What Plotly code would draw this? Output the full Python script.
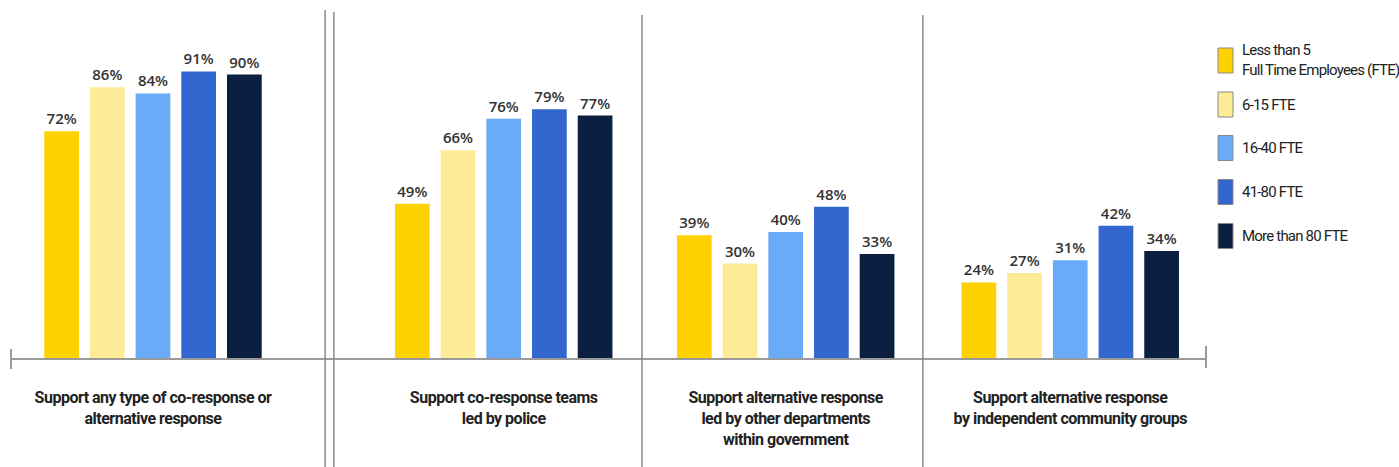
import plotly.graph_objects as go

# ---------------- data ----------------
categories = [
    "Support any type of co-response or<br>alternative response",
    "Support co-response teams<br>led by police",
    "Support alternative response<br>led by other departments<br>within government",
    "Support alternative response<br>by independent community groups",
]
series_names = [
    "Less than 5<br>Full Time Employees (FTE)",
    "6-15 FTE",
    "16-40 FTE",
    "41-80 FTE",
    "More than 80 FTE",
]
values = {
    "Less than 5<br>Full Time Employees (FTE)": [72, 49, 39, 24],
    "6-15 FTE": [86, 66, 30, 27],
    "16-40 FTE": [84, 76, 40, 31],
    "41-80 FTE": [91, 79, 48, 42],
    "More than 80 FTE": [90, 77, 33, 34],
}
colors = ["#FFD100", "#FEEB98", "#6AABF8", "#3267CF", "#0B1F40"]

# ---------------- layout helpers ----------------
W, H = 1399, 467
ML, MT = 11, 10
PW, PH = 1195, 348
MR = W - ML - PW
MB = H - MT - PH
X_RANGE = [0, 4.208]
Y_RANGE = [0, 110.5]
group_pos = [0.5, 1.735, 2.728, 3.73]
divider_pos = [(1.106, 10), (1.137, 12), (2.222, 15), (3.211, 15)]


def xp(x):
    return (x - X_RANGE[0]) / (X_RANGE[1] - X_RANGE[0])


def px_x(p):
    return (p - ML) / PW


def px_y(p):
    return (MT + PH - p) / PH


def tight(s, ls):
    return "<br>".join(f'<span style="letter-spacing:{ls}px">{part}</span>' for part in s.split("<br>"))


cond = "Roboto, Liberation Sans Narrow, Arial Narrow, sans-serif"
legend_font = dict(family=cond, size=15, color="#222222")

fig = go.Figure()
for name, col in zip(series_names, colors):
    v = values[name]
    fig.add_trace(go.Bar(
        x=group_pos, y=v, name=name, marker=dict(color=col, line=dict(width=0)),
        text=[f"{a}%" for a in v], textposition="outside", cliponaxis=False,
        textfont=dict(family="Open Sans, Inter, sans-serif", size=15, color="#333333", weight=600),
        showlegend=False,
    ))

shapes = []
for xd, top in divider_pos:
    shapes.append(dict(type="line", xref="paper", yref="paper",
                       x0=xp(xd), x1=xp(xd), y0=px_y(top), y1=px_y(470),
                       line=dict(color="#8a8a8a", width=1.5)))
shapes.append(dict(type="line", xref="paper", yref="paper", x0=0, x1=0,
                   y0=px_y(369), y1=px_y(349), line=dict(color="#9a9a9a", width=2)))
shapes.append(dict(type="line", xref="paper", yref="paper", x0=1, x1=1,
                   y0=px_y(368), y1=px_y(346), line=dict(color="#9a9a9a", width=2)))

annotations = []
leg_centers = [60.5, 104.5, 148, 192, 236]
for name, col, cy in zip(series_names, colors, leg_centers):
    shapes.append(dict(type="rect", xref="paper", yref="paper",
                       x0=px_x(1218), x1=px_x(1233), y0=px_y(cy + 12.5), y1=px_y(cy - 12.5),
                       fillcolor=col, line=dict(color="#8a8a8a", width=1)))
    annotations.append(dict(xref="paper", yref="paper", x=px_x(1240), y=px_y(cy),
                            xanchor="left", yanchor="middle", align="left", showarrow=False,
                            text=tight(name, -0.8), font=legend_font))

fig.update_layout(
    width=W, height=H,
    margin=dict(l=ML, r=MR, t=MT, b=MB),
    paper_bgcolor="white", plot_bgcolor="white",
    barmode="group", bargap=0.19, bargroupgap=0.24,
    shapes=shapes, annotations=annotations,
    xaxis=dict(range=X_RANGE, tickvals=group_pos,
               ticktext=[tight(c, -0.5) for c in categories],
               showline=True, linecolor="#9a9a9a", linewidth=2,
               ticks="outside", ticklen=24, tickcolor="rgba(0,0,0,0)",
               showgrid=False, zeroline=False,
               tickfont=dict(family=cond, size=16, color="#222222", weight="bold")),
    yaxis=dict(range=Y_RANGE, visible=False, showgrid=False, zeroline=False),
)

fig.write_html("out.html", config={"displayModeBar": False},
               post_script="document.body.style.margin='0';document.body.style.overflow='hidden';")
